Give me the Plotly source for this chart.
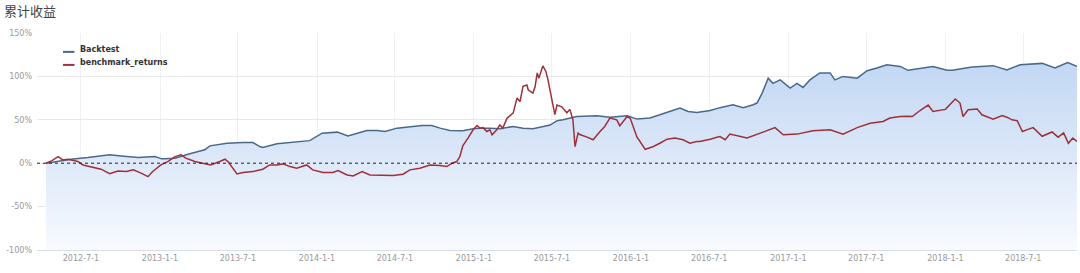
import plotly.graph_objects as go

title_text = "累计收益"

bt_dates = ["2012-04-11","2012-06-08","2012-07-17","2012-09-06","2012-10-03","2012-11-11","2012-12-20",
"2013-01-05","2013-01-12","2013-02-05","2013-03-07","2013-04-15","2013-04-27","2013-06-06","2013-07-13",
"2013-08-05","2013-08-21","2013-08-28","2013-09-30","2013-11-06","2013-12-15","2014-01-13","2014-02-17",
"2014-03-14","2014-04-04","2014-04-27","2014-05-21","2014-06-08","2014-07-06","2014-08-12","2014-09-02",
"2014-09-25","2014-10-14","2014-11-06","2014-12-06","2014-12-30","2015-01-15","2015-02-07","2015-03-02",
"2015-04-02","2015-04-25","2015-05-18","2015-06-10","2015-06-27","2015-07-13","2015-07-27","2015-08-28",
"2015-10-14","2015-11-13","2015-12-23","2016-01-15","2016-02-14","2016-03-08","2016-04-01","2016-04-24",
"2016-05-13","2016-06-02","2016-07-03","2016-07-26","2016-08-25","2016-09-18","2016-10-11","2016-10-20",
"2016-11-01","2016-11-15","2016-11-26","2016-12-13","2017-01-05","2017-01-21","2017-02-04","2017-02-20",
"2017-03-15","2017-04-08","2017-04-19","2017-05-08","2017-06-10","2017-07-03","2017-07-26","2017-08-18",
"2017-09-18","2017-10-06","2017-12-03","2018-01-05","2018-01-17","2018-02-20","2018-03-04","2018-04-22",
"2018-05-24","2018-06-24","2018-08-14","2018-09-13","2018-10-12","2018-11-03"]
bt_vals = [0,4.6,6.5,9.6,8.4,6.5,7.6,
5,5,5.8,10.4,15.4,20,23,23.8,
23.8,19.2,18,22.3,23.8,26,34.6,35.8,
31.5,34.6,37.6,37.6,36.5,40.4,42.3,43.4,
43.4,40.4,37.7,37.3,39.6,40.4,40.4,39.6,
42.3,40.4,39.6,42.3,44,49,50,53.8,
54.6,53,54.6,50.8,52,55.8,59.6,63.5,
59.6,58.5,60.7,64,67.3,64,67.3,69.3,
80.8,98,92,96,86.6,92,87.3,96,
104,104,96,100,98,106.6,109.7,113.5,
111.5,107,111.5,107,107,109.7,110.8,112.4,
107.5,113.5,115,109.7,116,111.5]

bm_dates = ["2012-04-11","2012-04-25","2012-05-09","2012-05-20","2012-06-01","2012-06-12","2012-06-24",
"2012-07-06","2012-07-24","2012-08-17","2012-09-06","2012-09-25","2012-10-15","2012-10-31","2012-11-18",
"2012-12-04","2012-12-15","2013-01-03","2013-01-19","2013-02-05","2013-02-19","2013-03-02","2013-03-23",
"2013-04-15","2013-04-29","2013-05-20","2013-06-01","2013-06-08","2013-06-17","2013-06-29","2013-07-13",
"2013-08-05","2013-08-28","2013-09-13","2013-09-30","2013-10-14","2013-10-30","2013-11-15","2013-12-08",
"2013-12-22","2014-01-15","2014-02-07","2014-02-19","2014-03-12","2014-03-26","2014-04-16","2014-05-04",
"2014-05-28","2014-06-27","2014-07-20","2014-08-05","2014-08-28","2014-09-21","2014-10-14","2014-10-30",
"2014-11-11","2014-11-22","2014-11-29","2014-12-06","2014-12-18","2014-12-30","2015-01-08","2015-01-15",
"2015-01-22","2015-01-31","2015-02-07","2015-02-12","2015-02-23","2015-03-02","2015-03-09","2015-03-19",
"2015-04-02","2015-04-11","2015-04-18","2015-04-25","2015-05-04","2015-05-07","2015-05-18","2015-05-23",
"2015-05-28","2015-06-01","2015-06-10","2015-06-17","2015-06-22","2015-06-27","2015-07-01","2015-07-08",
"2015-07-13","2015-07-24","2015-08-05","2015-08-12","2015-08-19","2015-08-24","2015-08-31","2015-09-04",
"2015-09-21","2015-10-05","2015-10-21","2015-11-01","2015-11-13","2015-11-29","2015-12-06","2015-12-23",
"2015-12-30","2016-01-06","2016-01-15","2016-01-22","2016-02-03","2016-02-21","2016-03-01","2016-03-08",
"2016-03-25","2016-04-12","2016-05-01","2016-05-17","2016-06-02","2016-06-09","2016-07-03","2016-07-10",
"2016-07-19","2016-07-26","2016-08-07","2016-08-18","2016-09-27","2016-11-03","2016-12-01","2016-12-20",
"2017-01-21","2017-02-27","2017-04-08","2017-05-08","2017-06-10","2017-07-10","2017-08-09","2017-08-25",
"2017-09-18","2017-10-04","2017-10-16","2017-11-03","2017-11-22","2017-12-03","2018-01-01","2018-01-24",
"2018-02-04","2018-02-11","2018-02-23","2018-03-16","2018-03-27","2018-04-22","2018-05-13","2018-05-24",
"2018-06-05","2018-06-17","2018-06-29","2018-07-12","2018-07-24","2018-08-14","2018-09-06","2018-09-20",
"2018-10-03","2018-10-14","2018-10-24","2018-11-03"]
bm_vals = [0,3,7.6,3.8,4.6,3,2,
-2,-3.9,-6.9,-12,-8.9,-9.6,-7.7,-11.5,
-15.5,-9.6,-2,1.9,7.6,9.6,5.8,1.9,
0,-2,1.9,4.6,1.9,-3.9,-12.4,-10.8,
-9.7,-6.9,-2,-2,-0.8,-3.9,-5.8,-2,
-7.7,-10.8,-10.8,-8.5,-13.5,-14.7,-9.7,-13.5,
-14.2,-14.3,-12.7,-7.7,-5.8,-2,-2.7,-3.9,
0,1.9,7.6,20,28.9,38.5,43.4,40.4,
41,36.5,38.5,32.7,38.5,44,40.4,52,
57.7,75,71,88.5,90,84.6,80.8,88,
104,98,112,106,96,83,73,56,
67,65,58,62,50,19,34.6,33,
30,27,36.5,42.3,52,50,43,53.8,
52,42,30,25,16,19,21,23,
27.7,28.9,27,23,25,25,27.7,29,
30,30.7,27,33.5,29,35.8,41,32.7,
33.5,37.3,38.5,33.5,41,46,48,52,
53.8,54,53.8,60.7,67,59.6,62,74,
69.3,53.8,61.5,62.4,55.8,50.8,55,53,
50,49,36.5,39,41,31,36,30,
35,23,29,25]

tick_vals = ["2012-07-01","2013-01-01","2013-07-01","2014-01-01","2014-07-01","2015-01-01","2015-07-01",
"2016-01-01","2016-07-01","2017-01-01","2017-07-01","2018-01-01","2018-07-01"]
tick_text = ["2012-7-1","2013-1-1","2013-7-1","2014-1-1","2014-7-1","2015-1-1","2015-7-1",
"2016-1-1","2016-7-1","2017-1-1","2017-7-1","2018-1-1","2018-7-1"]
y_ticks = [-100, -50, 0, 50, 100, 150]
y_text = ["-100%", "-50%", "0%", "50%", "100%", "150%"]
legend_names = ["Backtest", "benchmark_returns"]
line_colors = ["#4b6889", "#9f3039"]

fig = go.Figure()
# baseline at axis bottom so the area fills down to -100%
fig.add_trace(go.Scatter(x=[bt_dates[0], bt_dates[-1]], y=[y_ticks[0], y_ticks[0]], mode="lines",
                         line=dict(width=0, color="rgba(0,0,0,0)"), showlegend=False, hoverinfo="skip"))
fig.add_trace(go.Scatter(x=bt_dates, y=bt_vals, mode="lines", name=legend_names[0],
                         line=dict(color=line_colors[0], width=1.5), fill="tonexty",
                         fillgradient=dict(type="vertical", start=-100, stop=150,
                                           colorscale=[[0, "rgb(248,250,254)"], [0.4, "rgb(222,233,249)"],
                                                       [1, "rgb(186,210,242)"]]),
                         showlegend=False))
fig.add_trace(go.Scatter(x=bm_dates, y=bm_vals, mode="lines", name=legend_names[1],
                         line=dict(color=line_colors[1], width=1.5), showlegend=False))

# zero reference line
fig.add_shape(type="line", xref="paper", x0=0, x1=1, yref="y", y0=0, y1=0,
              line=dict(color="#222222", width=1, dash="3px,3px"))

# legend (drawn compactly as in the original)
for i, (nm, col) in enumerate(zip(legend_names, line_colors)):
    yy = 0.925 - i * 0.06
    fig.add_shape(type="line", xref="paper", yref="paper", x0=0.025, x1=0.036, y0=yy - 0.012, y1=yy - 0.012,
                  line=dict(color=col, width=2))
    fig.add_annotation(xref="paper", yref="paper", x=0.039, y=yy, text="<b>%s</b>" % nm, showarrow=False,
                       xanchor="left", yanchor="middle", font=dict(family="DejaVu Sans", size=8, color="#333333"))

fig.update_layout(
    width=1080, height=273,
    margin=dict(l=37, r=3, t=33, b=23),
    paper_bgcolor="white", plot_bgcolor="white",
    showlegend=False,
    font=dict(family="DejaVu Sans", size=8, color="#999999"),
    annotations=list(fig.layout.annotations) + [
        dict(text=title_text, xref="paper", yref="paper", x=-0.034, y=1.155, xanchor="left", yanchor="top",
             showarrow=False, font=dict(family="Noto Sans CJK SC", size=13, color="#444444"))],
)
fig.update_xaxes(type="date", range=["2012-03-21", "2018-11-03"], tickvals=tick_vals, ticktext=tick_text,
                 showgrid=True, gridcolor="#eef1f5", gridwidth=1, showline=True, linecolor="#d8dee8",
                 ticks="", zeroline=False, tickfont=dict(size=8, color="#999999"))
fig.update_yaxes(range=[-100, 150], tickvals=y_ticks, ticktext=y_text, showgrid=True, gridcolor="#e8e8e8",
                 zeroline=False, ticks="", ticklabelstandoff=4, tickfont=dict(size=8, color="#999999"))

fig.write_html("out.html")
